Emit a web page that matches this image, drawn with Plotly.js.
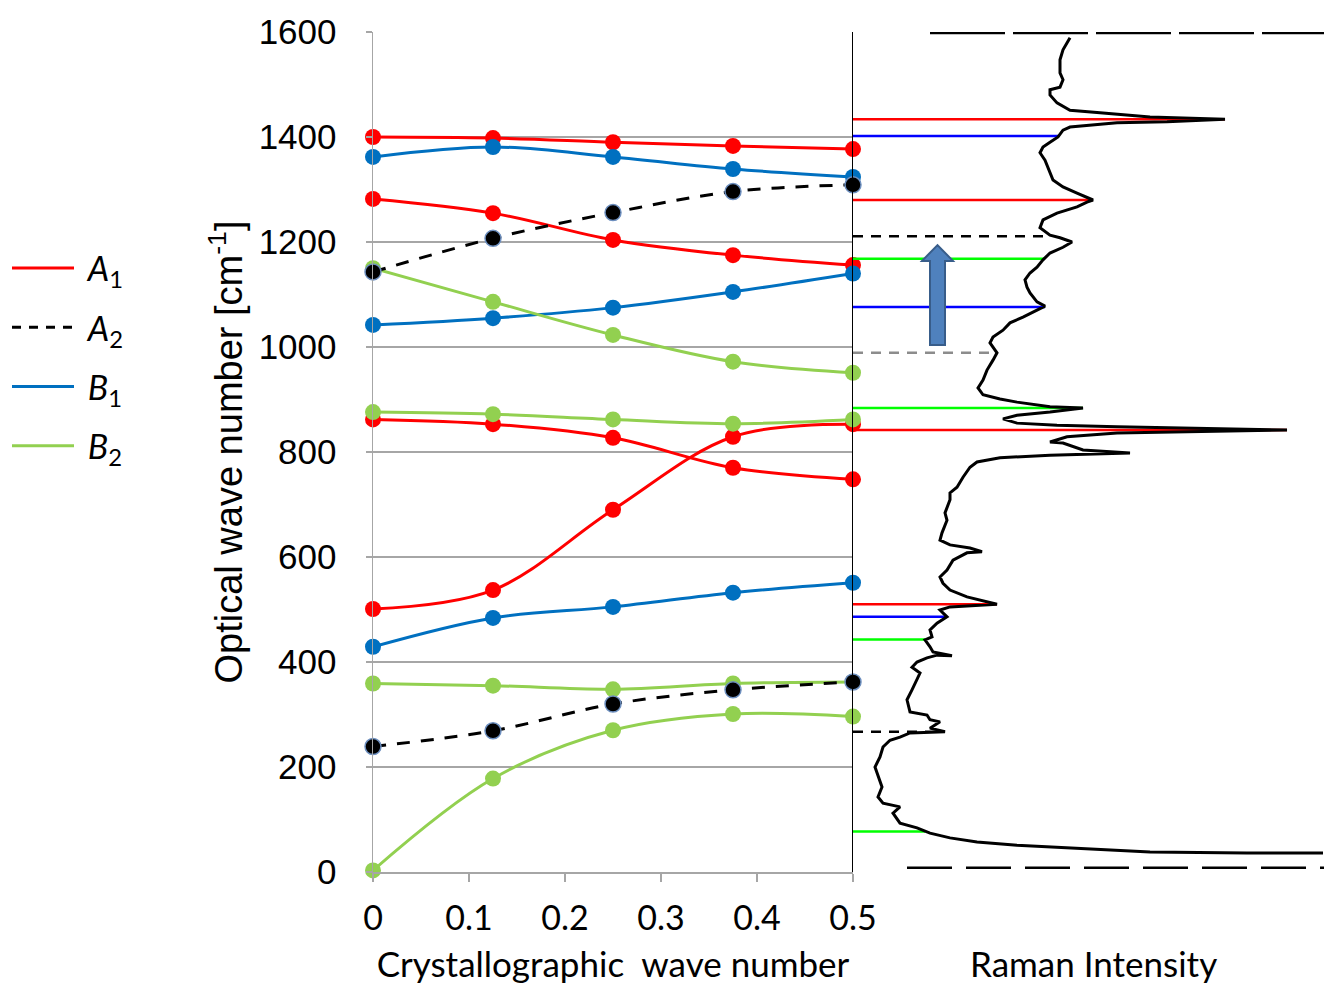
<!DOCTYPE html>
<html>
<head>
<meta charset="utf-8">
<script src="https://cdn.plot.ly/plotly-3.0.1.min.js"></script>
<style>
  html, body { margin: 0; padding: 0; background: #ffffff; }
  #chart { width: 1324px; height: 990px; }
</style>
</head>
<body>
<div id="chart"></div>
<script>
// ---------- Dispersion data (crystallographic wave number vs optical wave number) ----------
const qPoints = [0, 0.125, 0.25, 0.375, 0.5];

const a1Branch1 = [1400, 1398, 1390, 1383, 1377];
const a1Branch2 = [1282, 1255, 1204, 1175, 1156];
const a1Branch3 = [862, 853, 827, 770, 748];
const a1Branch4 = [501, 537, 690, 829, 853];

const a2Branch1 = [1143, 1207, 1256, 1296, 1309];
const a2Branch2 = [239, 269, 320, 347, 362];

const b1Branch1 = [1362, 1381, 1362, 1339, 1324];
const b1Branch2 = [1042, 1055, 1075, 1105, 1140];
const b1Branch3 = [429, 484, 505, 532, 551];

const b2Branch1 = [1150, 1086, 1023, 972, 951];
const b2Branch2 = [876, 872, 862, 854, 862];
const b2Branch3 = [359, 355, 348, 359, 362];
const b2Branch4 = [3, 178, 270, 301, 296];

const legendNames = ['&nbsp;<i>A</i><sub>1</sub>', '&nbsp;<i>A</i><sub>2</sub>', '&nbsp;<i>B</i><sub>1</sub>', '&nbsp;<i>B</i><sub>2</sub>'];

// ---------- Raman spectrum (intensity in arbitrary units vs Raman shift in cm-1) ----------
const ramanShift = [36, 36, 38, 44, 51, 57, 65, 74, 84, 93, 112, 124, 131, 143, 162, 189, 200, 219, 238, 251,
  257, 265, 267, 274, 286, 290, 299, 305, 328, 347, 366, 379, 390, 400, 408, 413, 412, 419, 429, 442,
  448, 461, 474, 486, 499, 505, 510, 524, 537, 550, 562, 575, 594, 608, 610, 617, 623, 632, 646, 670,
  684, 709, 722, 733, 752, 771, 781, 789, 794, 798, 804, 817, 819, 829, 836, 838, 842, 848, 851, 855,
  863, 870, 876, 884, 886, 895, 901, 909, 922, 937, 956, 975, 989, 1008, 1019, 1032, 1046, 1057, 1070, 1078,
  1086, 1103, 1114, 1128, 1141, 1152, 1166, 1179, 1190, 1200, 1208, 1213, 1227, 1242, 1255, 1267, 1276, 1280, 1293, 1305,
  1318, 1333, 1356, 1370, 1381, 1390, 1400, 1413, 1419, 1427, 1429, 1434, 1438, 1446, 1451, 1465, 1480, 1490, 1495, 1509,
  1522, 1547, 1566, 1589];
const ramanIntensity = [470, 394, 297, 230, 164, 124, 97, 77, 64, 47, 40, 47, 30, 25, 29, 24, 22, 27, 30, 37,
  47, 57, 92, 77, 87, 77, 74, 57, 54, 59, 64, 67, 59, 64, 74, 84, 99, 80, 77, 72,
  79, 77, 84, 94, 87, 97, 144, 114, 97, 90, 87, 94, 100, 114, 129, 117, 97, 87, 89, 94,
  92, 97, 97, 104, 110, 117, 124, 147, 197, 277, 230, 210, 197, 214, 264, 330, 434, 264, 204, 164,
  150, 164, 197, 230, 197, 164, 147, 130, 125, 130, 134, 140, 144, 137, 140, 150, 157, 170, 184, 192,
  184, 177, 174, 172, 177, 184, 190, 197, 210, 219, 207, 197, 187, 190, 204, 224, 234, 240, 224, 210,
  200, 197, 192, 187, 190, 197, 205, 210, 217, 264, 314, 372, 297, 247, 217, 204, 197, 197, 207, 210,
  207, 207, 210, 217];

// Rayleigh / frame artefacts of the scanned spectrum
const topEdgeShift = [1598, 1598];
const topEdgeIntensity = [77, 471];
const bottomEdgeShift = [8, 8];
const bottomEdgeIntensity = [54, 471];

// Assigned peak markers in the spectrum
const peakShift = [1434, 1402, 1280, 1211, 1168, 1076, 989, 884, 842, 510, 486, 443, 267, 77];
const peakIntensity = [372, 205, 240, 197, 192, 192, 144, 230, 434, 144, 94, 72, 92, 72];
const peakSymmetry = ['A1', 'B1', 'A1', 'A2', 'B2', 'B1', 'X', 'B2', 'A1', 'A1', 'B1', 'B2', 'A2', 'B2'];

// ---------- Styling ----------
const colA1 = '#ff0000', colA2 = '#000000', colB1 = '#0070c0', colB2 = '#92d050';
const peakStyle = {
  A1: {color: '#ff0000', dash: 'solid'},
  B1: {color: '#0000ff', dash: 'solid'},
  B2: {color: '#00ff00', dash: 'solid'},
  A2: {color: '#000000', dash: '10px,8px'},
  X:  {color: '#8c8c8c', dash: '10px,8px'}
};

const traces = [];
function branch(y, color, dashed) {
  traces.push({
    x: qPoints, y: y, type: 'scatter', mode: 'lines+markers',
    xaxis: 'x', yaxis: 'y', showlegend: false, cliponaxis: false, hoverinfo: 'x+y',
    line: {color: color, width: 3, shape: 'spline', smoothing: 1, dash: dashed ? '13px,11px' : 'solid'},
    marker: {color: color, size: 16, line: {color: dashed ? '#6d8fbf' : color, width: dashed ? 1.5 : 0}}
  });
}
[a1Branch1, a1Branch2, a1Branch3, a1Branch4].forEach(y => branch(y, colA1, false));
[b1Branch1, b1Branch2, b1Branch3].forEach(y => branch(y, colB1, false));
[b2Branch1, b2Branch2, b2Branch3, b2Branch4].forEach(y => branch(y, colB2, false));
[a2Branch1, a2Branch2].forEach(y => branch(y, colA2, true));

// legend entries
[[colA1, 'solid'], [colA2, '9px,8px'], [colB1, 'solid'], [colB2, 'solid']].forEach((s, i) => {
  traces.push({
    x: [null], y: [null], type: 'scatter', mode: 'lines', name: legendNames[i],
    legendgroup: 'g' + i, xaxis: 'x', yaxis: 'y',
    line: {color: s[0], width: 3, dash: s[1]}
  });
});

// peak assignment lines
peakShift.forEach((w, i) => {
  const st = peakStyle[peakSymmetry[i]];
  traces.push({
    x: [0, peakIntensity[i]], y: [w, w], type: 'scatter', mode: 'lines',
    xaxis: 'x2', yaxis: 'y2', showlegend: false, hoverinfo: 'y',
    line: {color: st.color, width: 2.5, dash: st.dash}
  });
});

// spectrum
traces.push({
  x: ramanIntensity, y: ramanShift, type: 'scatter', mode: 'lines',
  xaxis: 'x2', yaxis: 'y2', showlegend: false, cliponaxis: false,
  line: {color: '#000000', width: 3}
});
traces.push({
  x: topEdgeIntensity, y: topEdgeShift, type: 'scatter', mode: 'lines',
  xaxis: 'x2', yaxis: 'y2', showlegend: false, cliponaxis: false,
  line: {color: '#000000', width: 2.5, dash: '75px,8px'}
});
traces.push({
  x: bottomEdgeIntensity, y: bottomEdgeShift, type: 'scatter', mode: 'lines',
  xaxis: 'x2', yaxis: 'y2', showlegend: false, cliponaxis: false,
  line: {color: '#000000', width: 2.5, dash: '45px,14px'}
});

const W = 1324;
const gridCol = '#a6a6a6';
const layout = {
  width: 1324, height: 990,
  margin: {l: 0, r: 0, t: 32, b: 118},
  paper_bgcolor: '#ffffff', plot_bgcolor: 'rgba(0,0,0,0)',
  showlegend: true,
  legend: {
    x: 7 / W, y: 0.753, xanchor: 'left', yanchor: 'top',
    font: {family: 'Lato, "Open Sans", sans-serif', size: 34, color: '#000000'},
    tracegroupgap: 12, itemwidth: 62, bgcolor: 'rgba(0,0,0,0)', borderwidth: 0
  },
  xaxis: {
    domain: [373 / W, 853 / W], range: [0, 0.5], dtick: 0.1, tick0: 0,
    showgrid: false, zeroline: false,
    showline: true, linecolor: gridCol, linewidth: 1.5,
    ticks: 'outside', ticklen: 8, tickcolor: gridCol, tickwidth: 1.5,
    ticklabelstandoff: 8,
    tickfont: {family: 'Lato, "Open Sans", sans-serif', size: 34, color: '#000000'},
    title: {text: 'Crystallographic&nbsp; wave number', standoff: 16,
            font: {family: 'Lato, "Open Sans", sans-serif', size: 35, color: '#000000'}},
    anchor: 'y'
  },
  yaxis: {
    domain: [0, 1], range: [0, 1600], dtick: 200, tick0: 0,
    showgrid: true, gridcolor: gridCol, gridwidth: 1.5, zeroline: false,
    showline: true, linecolor: gridCol, linewidth: 1.5,
    ticks: 'outside', ticklen: 6, tickcolor: gridCol, tickwidth: 1.5,
    ticklabelstandoff: 22,
    tickfont: {family: '"Liberation Sans", Arial, sans-serif', size: 35, color: '#000000'},
    title: {text: 'Optical wave number [cm<sup>-1</sup>]', standoff: 4,
            font: {family: '"Liberation Sans", Arial, sans-serif', size: 38, color: '#000000'}},
    anchor: 'x'
  },
  xaxis2: {
    domain: [853 / W, 1], range: [0, 471], anchor: 'y2',
    showgrid: false, zeroline: false, showline: false, showticklabels: false, ticks: ''
  },
  yaxis2: {
    domain: [0, 1], range: [0, 1600], anchor: 'x2', side: 'left',
    showgrid: false, zeroline: false, showticklabels: false, ticks: '',
    showline: true, linecolor: '#000000', linewidth: 1.5
  },
  shapes: [{
    type: 'path', xref: 'x2', yref: 'y2', layer: 'above',
    path: 'M77,1004 L92,1004 L92,1164 L100,1164 L84.5,1194 L69,1164 L77,1164 Z',
    fillcolor: '#4f81bd', line: {color: '#385d8a', width: 2}
  }],
  annotations: [{
    text: 'Raman Intensity', xref: 'paper', yref: 'paper',
    x: 1093 / W, y: (872 - 963) / 840, xanchor: 'center', yanchor: 'middle',
    showarrow: false,
    font: {family: 'Lato, "Open Sans", sans-serif', size: 35, color: '#000000'}
  }]
};

Plotly.newPlot('chart', traces, layout, {displayModeBar: false, staticPlot: true});
</script>
</body>
</html>
